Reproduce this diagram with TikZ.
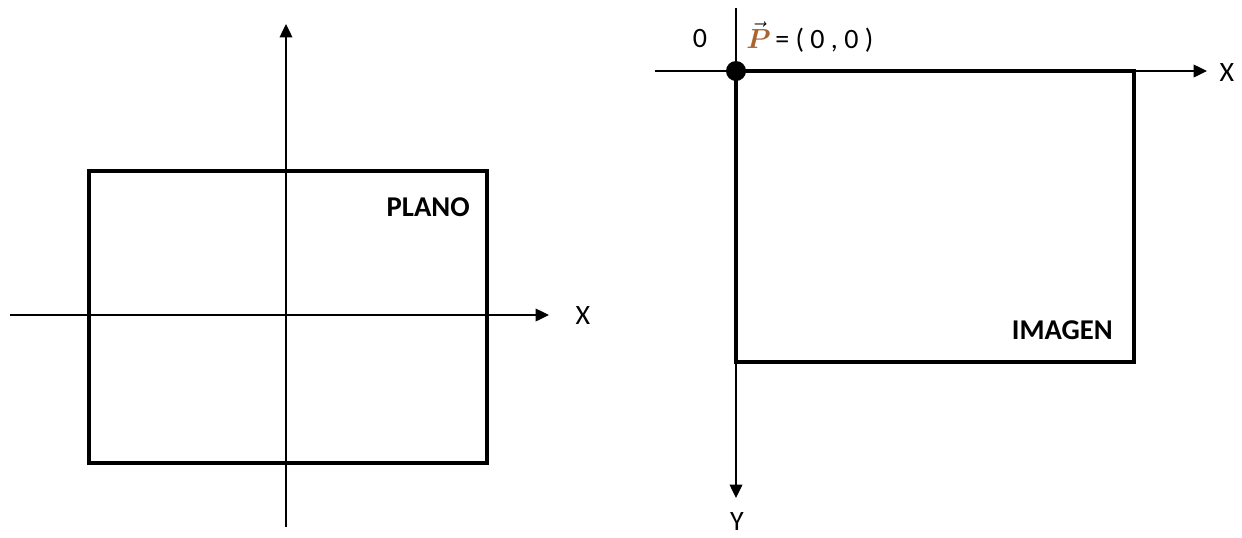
\documentclass[tikz,border=0pt]{standalone}
\usepackage{fontspec}
\setmainfont{Carlito}
\usepackage{amsmath}
\usetikzlibrary{arrows.meta}
\definecolor{pcol}{RGB}{170,100,50}
\begin{document}
\begin{tikzpicture}[x=0.75pt,y=-0.75pt,
  axis/.style={line width=1pt,-{Triangle[length=10pt,width=9.5pt]}},
  plainaxis/.style={line width=1pt},
  frame/.style={line width=2.6pt},
  lbl/.style={font=\fontsize{21}{25}\selectfont,inner sep=0pt},
  blbl/.style={font=\fontsize{21.5}{25}\selectfont\bfseries,inner sep=0pt}]
\useasboundingbox (0,0) rectangle (1242,537);
% left figure
\coordinate (lxs) at (10,315);
\coordinate (lxe) at (549,315);
\coordinate (lys) at (286,527);
\coordinate (lye) at (286,24);
\draw[frame] (89,171) rectangle (487,463);
\draw[axis] (lxs) -- (lxe);
\draw[axis] (lys) -- (lye);
\node[lbl] (lX) at (583,316) {X};
\node[blbl,anchor=east] (plano) at (470,207) {PLANO};
% right figure
\coordinate (o) at (736,71);
\coordinate (rxs) at (655,71);
\coordinate (rxe) at (1207,71);
\coordinate (rys) at (736,8);
\coordinate (rye) at (736,498);
\draw[frame] (o) rectangle (1134,362);
\draw[axis] (rxs) -- (rxe);
\draw[plainaxis] (rys) -- (o);
\draw[axis] (o) -- (rye);
\fill (o) circle (7.5pt);
\node[lbl] (rX) at (1227,73) {X};
\node[lbl] (rY) at (737,522) {Y};
\node[lbl] (zero) at (700,39) {0};
\node[lbl,anchor=west] (peq) at (746,37) {$\vec{\boldsymbol{\textcolor{pcol}{P}}}$\,= ( 0 , 0 )};
\node[blbl,anchor=east] (imagen) at (1113,330) {IMAGEN};
\end{tikzpicture}
\end{document}
